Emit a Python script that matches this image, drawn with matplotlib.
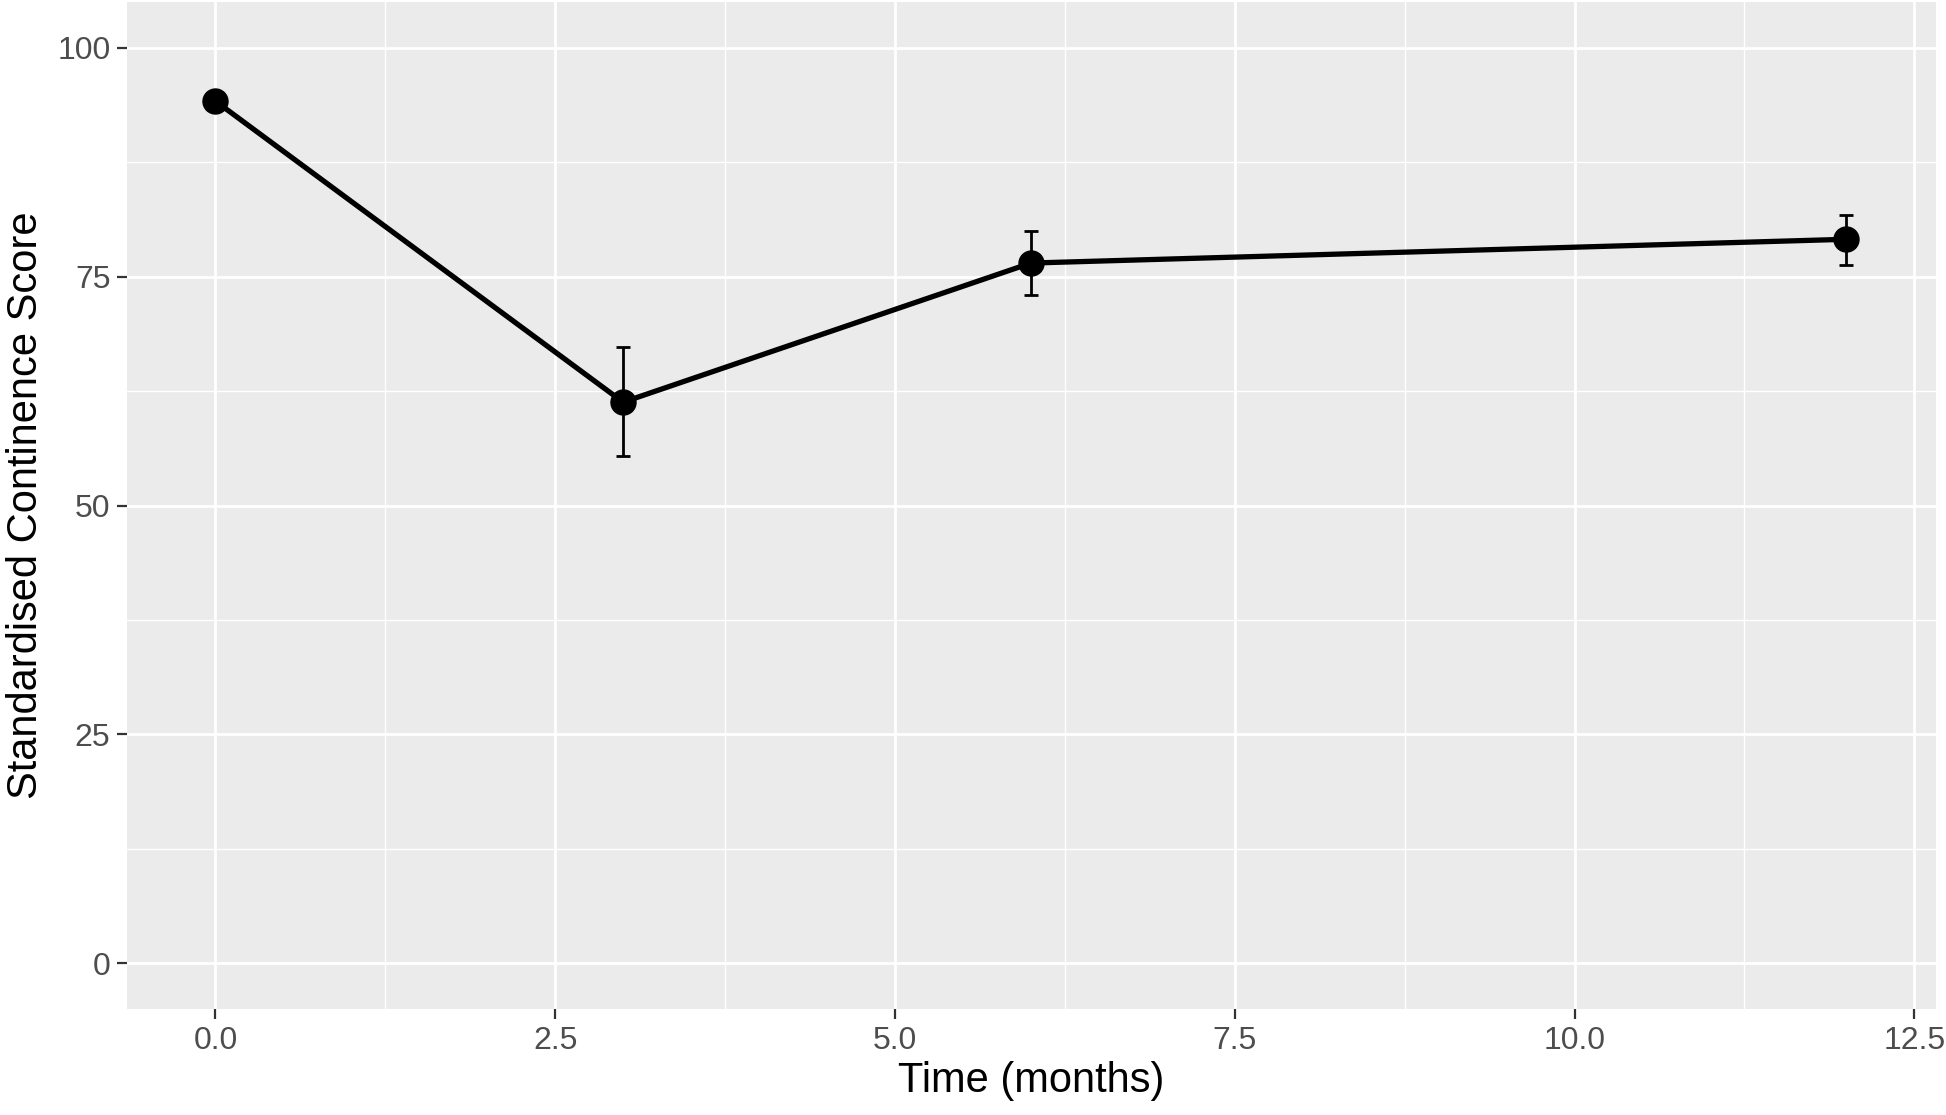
import matplotlib
matplotlib.use("Agg")
import matplotlib.pyplot as plt
from matplotlib.ticker import MultipleLocator

time_months = [0, 3, 6, 12]
score_mean = [94.2, 61.3, 76.5, 79.1]
score_lower = [94.2, 55.4, 73.0, 76.3]
score_upper = [94.2, 67.3, 80.0, 81.8]

xticks = [0.0, 2.5, 5.0, 7.5, 10.0, 12.5]
xtick_labels = ["0.0", "2.5", "5.0", "7.5", "10.0", "12.5"]
yticks = [0, 25, 50, 75, 100]
ytick_labels = ["0", "25", "50", "75", "100"]

plt.rcParams['font.family'] = ['Liberation Sans', 'DejaVu Sans']

fig = plt.figure(figsize=(19.46, 11.15), dpi=100)
ax = fig.add_axes([0.0653, 0.0951, 0.9296, 0.9029])
ax.set_facecolor("#EBEBEB")
for s in ax.spines.values():
    s.set_visible(False)

ax.set_xlim(-0.65, 12.66)
ax.set_ylim(-5, 105)
ax.set_xticks(xticks)
ax.set_xticklabels(xtick_labels)
ax.set_yticks(yticks)
ax.set_yticklabels(ytick_labels)
ax.xaxis.set_minor_locator(MultipleLocator(1.25))
ax.yaxis.set_minor_locator(MultipleLocator(12.5))
ax.grid(which="major", color="white", linewidth=2.0)
ax.grid(which="minor", color="white", linewidth=1.0)
ax.set_axisbelow(True)
ax.tick_params(which="major", length=7, width=1.6, color="#333333",
               labelsize=23, labelcolor="#4D4D4D", pad=5)
ax.tick_params(which="minor", length=0)

yerr_low = [m - l for m, l in zip(score_mean, score_lower)]
yerr_high = [u - m for m, u in zip(score_mean, score_upper)]
ax.errorbar(time_months, score_mean, yerr=[yerr_low, yerr_high], fmt="none",
            ecolor="black", elinewidth=2.0, capsize=5, capthick=2.0, zorder=3)
ax.plot(time_months, score_mean, color="black", linewidth=3.8, zorder=4)
ax.plot(time_months, score_mean, "o", color="black", markersize=18, zorder=5)

ax.set_xlabel("Time (months)", fontsize=30, color="black", labelpad=4)
ax.set_ylabel("Standardised Continence Score", fontsize=30, color="black", labelpad=8)

fig.savefig("out.png", dpi=100)
